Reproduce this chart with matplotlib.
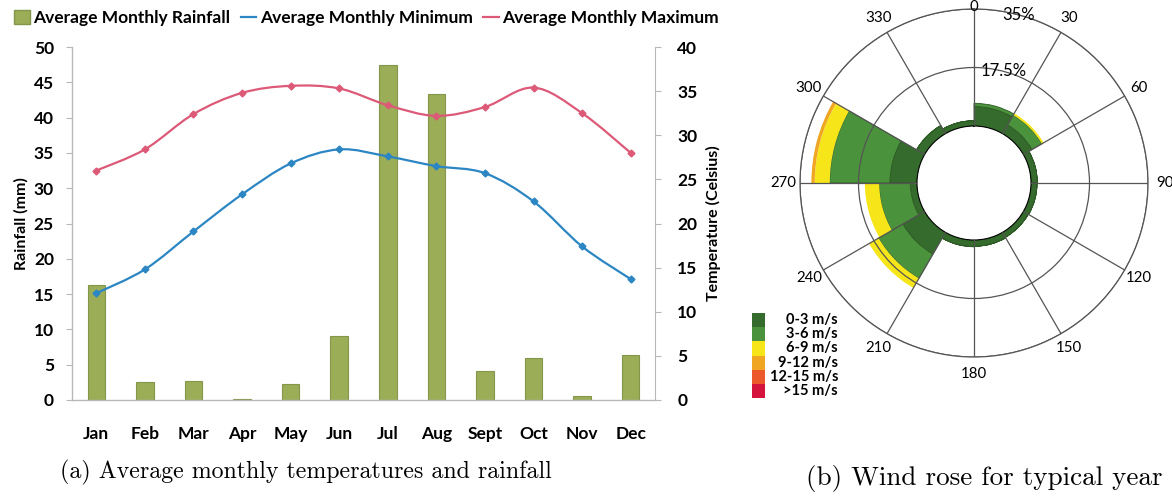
import numpy as np
import matplotlib
matplotlib.use("Agg")
import matplotlib.pyplot as plt
from matplotlib.path import Path
from matplotlib.patches import PathPatch, Patch
from matplotlib.lines import Line2D
from matplotlib.transforms import blended_transform_factory

# ---------------- data ----------------
months = ["Jan", "Feb", "Mar", "Apr", "May", "Jun", "Jul", "Aug", "Sept", "Oct", "Nov", "Dec"]
rainfall_mm = [16.3, 2.5, 2.7, 0.1, 2.3, 9.1, 47.4, 43.3, 4.1, 5.9, 0.5, 6.4]
temp_min_c = [12.1, 14.8, 19.1, 23.3, 26.8, 28.4, 27.6, 26.5, 25.7, 22.5, 17.4, 13.7]
temp_max_c = [26.0, 28.4, 32.4, 34.8, 35.6, 35.3, 33.4, 32.2, 33.2, 35.4, 32.5, 28.0]

rain_ticks = [0, 5, 10, 15, 20, 25, 30, 35, 40, 45, 50]
temp_ticks = [0, 5, 10, 15, 20, 25, 30, 35, 40]

# wind rose: direction sectors (degrees from north, sector centres) and
# frequency (%) per wind speed class
sector_centres = [15, 45, 75, 105, 135, 165, 195, 225, 255, 285, 315, 345]
speed_classes = ["0-3 m/s", "3-6 m/s", "6-9 m/s", "9-12 m/s", "12-15 m/s", ">15 m/s"]
freq_0_3 = [5.8, 3.0, 1.9, 1.8, 1.7, 1.9, 2.0, 7.5, 2.0, 8.1, 2.8, 1.6]
freq_3_6 = [1.0, 3.4, 0.0, 0.0, 0.0, 0.0, 0.0, 8.4, 9.3, 18.0, 0.0, 0.0]
freq_6_9 = [0.0, 0.6, 0.0, 0.0, 0.0, 0.0, 0.0, 3.3, 4.3, 4.5, 0.0, 0.0]
freq_9_12 = [0.0, 0.0, 0.0, 0.0, 0.0, 0.0, 0.0, 0.0, 0.0, 1.0, 0.0, 0.0]
freq_12_15 = [0.0] * 12
freq_15_up = [0.0] * 12
direction_ticks = [0, 30, 60, 90, 120, 150, 180, 210, 240, 270, 300, 330]
rose_rings = [17.5, 35]

# ---------------- styling ----------------
W, H = 1172, 499
FONT = "Lato"
BAR_COL = "#9cad58"
MIN_COL = "#2b86c3"
MAX_COL = "#dc5a78"
AXIS_GREY = "#b8b8b8"
speed_colors = ["#356b2c", "#4b923c", "#f6e619", "#f0a623", "#ec5a2c", "#d4143c"]

fig = plt.figure(figsize=(W / 100, H / 100), dpi=100)


def px_box(x0, y0, x1, y1):
    """Figure-fraction rectangle from pixel corners (top-left origin)."""
    return [x0 / W, (H - y1) / H, (x1 - x0) / W, (y1 - y0) / H]


def smooth_path(x, y):
    """Catmull-Rom curve through the points, expressed as cubic Beziers."""
    pts = np.column_stack([x, y]).astype(float)
    n = len(pts)
    verts = [pts[0]]
    codes = [Path.MOVETO]
    for i in range(n - 1):
        p0 = pts[max(i - 1, 0)]
        p1 = pts[i]
        p2 = pts[i + 1]
        p3 = pts[min(i + 2, n - 1)]
        verts += [p1 + (p2 - p0) / 6.0, p2 - (p3 - p1) / 6.0, p2]
        codes += [Path.CURVE4] * 3
    return Path(verts, codes)


# ---------------- (a) rainfall + temperatures ----------------
ax = fig.add_axes(px_box(72, 47, 655, 400))
x = np.arange(len(months))
ax.bar(x, rainfall_mm, width=0.36, color=BAR_COL, edgecolor="#84964a", linewidth=0.8, zorder=2)
ax.set_xlim(-0.5, len(months) - 0.5)
ax.set_ylim(0, 50)
ax.set_yticks(rain_ticks)
ax.set_xticks(x)
ax.set_xticklabels(months)
for s in ["top", "right"]:
    ax.spines[s].set_visible(False)
for s in ["left", "bottom"]:
    ax.spines[s].set_color(AXIS_GREY)
    ax.spines[s].set_linewidth(1.0)
ax.tick_params(axis="y", length=4, color=AXIS_GREY, pad=9, labelsize=12.5)
ax.tick_params(axis="x", length=0, pad=19, labelsize=12.5)
for lab in ax.get_xticklabels() + ax.get_yticklabels():
    lab.set_fontfamily(FONT)
    lab.set_fontweight("bold")
ax.set_ylabel("Rainfall (mm)", fontfamily=FONT, fontweight="bold", fontsize=11.5, labelpad=4)

ax2 = ax.twinx()
ax2.set_ylim(0, 40)
ax2.set_yticks(temp_ticks)
for s in ["top", "left", "bottom"]:
    ax2.spines[s].set_visible(False)
ax2.spines["right"].set_color(AXIS_GREY)
ax2.tick_params(axis="y", length=4, color=AXIS_GREY, pad=12, labelsize=12.5)
for lab in ax2.get_yticklabels():
    lab.set_fontfamily(FONT)
    lab.set_fontweight("bold")
ax2.set_ylabel("Temperature (Celsius)", fontfamily=FONT, fontweight="bold", fontsize=11.5, labelpad=6)

for series, col in [(temp_max_c, MAX_COL), (temp_min_c, MIN_COL)]:
    ax2.add_patch(PathPatch(smooth_path(x, series), fill=False, edgecolor=col, linewidth=1.6, zorder=3))
    ax2.plot(x, series, linestyle="none", marker="D", markersize=3.5, color=col, zorder=4)

handles = [
    Patch(facecolor=BAR_COL, edgecolor="#84964a", label="Average Monthly Rainfall"),
    Line2D([], [], color=MIN_COL, linewidth=1.6, label="Average Monthly Minimum"),
    Line2D([], [], color=MAX_COL, linewidth=1.6, label="Average Monthly Maximum"),
]
fig.legend(handles=handles, loc="center left", bbox_to_anchor=(14 / W, 1 - 18 / H), ncol=3,
           frameon=False, handlelength=0.9, handleheight=0.8, handletextpad=0.2, columnspacing=0.6,
           borderaxespad=0, borderpad=0,
           prop={"family": FONT, "weight": "bold", "size": 12.5})

# ---------------- (b) wind rose ----------------
pax = fig.add_axes(px_box(800, 9, 1148, 357), projection="polar")
pax.set_theta_zero_location("N")
pax.set_theta_direction(-1)
pax.set_rorigin(-17.05)
pax.set_rlim(0, 35)

theta = np.deg2rad(sector_centres)
width = np.deg2rad(30)
bottom = np.zeros(len(sector_centres))
for freq, col in zip([freq_0_3, freq_3_6, freq_6_9, freq_9_12, freq_12_15, freq_15_up], speed_colors):
    freq = np.asarray(freq)
    edge = "#2c5a24" if col in speed_colors[:2] else "none"
    pax.bar(theta, freq, width=width, bottom=bottom, color=col, edgecolor=edge, linewidth=0.6,
            align="center")
    bottom += freq

# the north label sits at the very top edge of the figure, so it is drawn separately
theta_labels = [str(d) for d in direction_ticks]
theta_labels[0] = ""
pax.set_thetagrids(direction_ticks, labels=theta_labels)
pax.set_rgrids(rose_rings, labels=["" for _ in rose_rings])
pax.set_axisbelow(False)
pax.grid(True, color="#555555", linewidth=0.9)
pax.spines["polar"].set_color("#555555")
pax.spines["polar"].set_linewidth(0.9)
if "inner" in pax.spines:
    pax.spines["inner"].set_visible(False)
pax.tick_params(axis="x", pad=1.5, labelsize=10.8)
for lab in pax.get_xticklabels():
    lab.set_fontfamily(FONT)
north = blended_transform_factory(pax.transAxes, fig.transFigure)
pax.text(0.5, 1.0, str(direction_ticks[0]), transform=north, ha="center", va="top",
         fontfamily=FONT, fontsize=10.8, clip_on=False)
# ring percentages, centred on their circles just east of north
for r in rose_rings:
    pax.text(np.deg2rad(15), r, f"{r:g}%", ha="center", va="center", fontfamily=FONT,
             fontsize=12, clip_on=False, zorder=5)

# speed-class key
lax = fig.add_axes(px_box(752, 313, 840, 398))
lax.set_xlim(0, 88)
lax.set_ylim(len(speed_classes) - 0.5, -0.5)
lax.barh(np.arange(len(speed_classes)), 13, height=1.0, color=speed_colors, edgecolor="none")
for i, name in enumerate(speed_classes):
    lax.text(86, i, name, ha="right", va="center", fontfamily=FONT, fontweight="bold", fontsize=10.5)
lax.axis("off")

# ---------------- captions ----------------
fig.text(306 / W, 1 - 472 / H, "(a) Average monthly temperatures and rainfall",
         ha="center", va="center", fontfamily="cmr10", fontsize=17.2)
fig.text(984 / W, 1 - 479 / H, "(b) Wind rose for typical year",
         ha="center", va="center", fontfamily="cmr10", fontsize=19.5)

fig.savefig("out.png", dpi=100)
